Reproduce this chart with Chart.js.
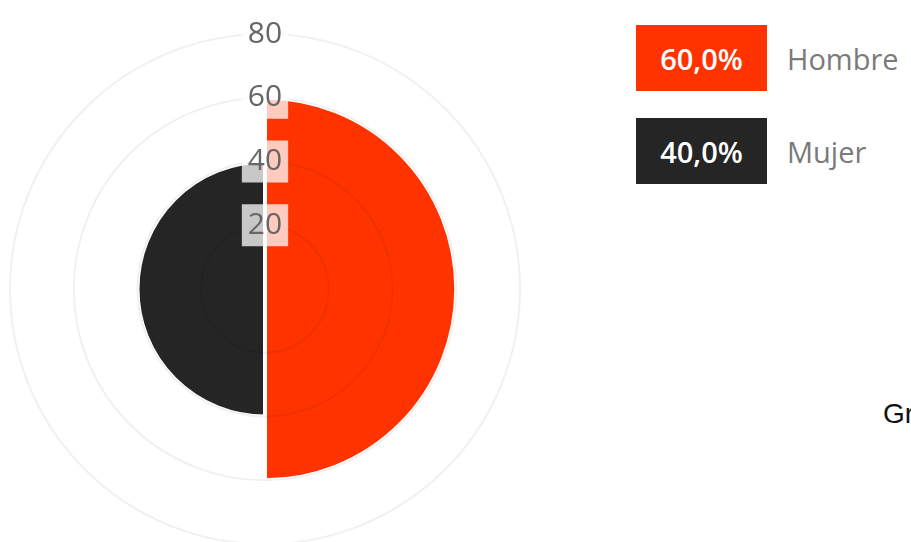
<!DOCTYPE html>
<html>
<head>
<meta charset="utf-8">
<script src="https://cdn.jsdelivr.net/npm/chart.js@4.4.0/dist/chart.umd.min.js"></script>
<style>
    html, body { margin: 0; padding: 0; background: #fff; }
    body { width: 911px; height: 542px; overflow: hidden; position: relative; font-family: "Open Sans", sans-serif; }
    #chartBox { position: absolute; left: -11px; top: -2px; width: 552px; height: 582px; }
    #legend { position: absolute; left: 636px; top: 25px; }
    .item { display: flex; align-items: center; height: 66px; margin-bottom: 27px; }
    .swatch { width: 131px; height: 66px; display: flex; align-items: center; justify-content: center;
              color: #fff; font-size: 29px; font-weight: 600; }
    .name { margin-left: 20px; font-size: 29px; color: #7a7a7a; }
    #side { position: absolute; left: 883px; top: 398px; font-family: "Liberation Sans", Arial, sans-serif;
            font-size: 28px; color: #111; white-space: nowrap; }
</style>
</head>
<body>
<div id="chartBox"><canvas id="polarChart"></canvas></div>
<div id="legend"></div>
<div id="side">Gráfico</div>

<script>
const categories = ['Hombre', 'Mujer'];
const values = [60, 40];
const sliceColors = ['#ff3300', '#252525'];
const tickValues = [20, 40, 60, 80];

// Legend boxes with the share of each category
const total = values.reduce((a, b) => a + b, 0);
const legend = document.getElementById('legend');
categories.forEach((name, i) => {
    const pct = (values[i] / total * 100).toFixed(1).replace('.', ',') + '%';
    const row = document.createElement('div');
    row.className = 'item';
    row.innerHTML = '<div class="swatch" style="background:' + sliceColors[i] + '">' + pct + '</div>' +
                    '<div class="name">' + name + '</div>';
    legend.appendChild(row);
});

const polar = document.getElementById('polarChart');
if (polar) {
    new Chart(polar, {
        type: 'polarArea',
        data: {
            labels: categories,
            datasets: [{
                data: values,
                backgroundColor: sliceColors,
                borderColor: '#ffffff',
                borderWidth: 4
            }]
        },
        options: {
            responsive: true,
            maintainAspectRatio: false,
            animation: false,
            layout: { padding: 0 },
            plugins: { legend: { display: false }, tooltip: { enabled: false } },
            scales: {
                r: {
                    min: 0,
                    max: tickValues[tickValues.length - 1],
                    afterBuildTicks: (scale) => {
                        scale.ticks = [{ value: 0 }].concat(tickValues.map(v => ({ value: v })));
                    },
                    grid: { color: 'rgba(0,0,0,0.06)', lineWidth: 2, z: 1 },
                    ticks: {
                        z: 2,
                        color: '#666',
                        font: { family: 'Open Sans', size: 30 },
                        backdropColor: 'rgba(255,255,255,0.75)',
                        backdropPadding: 6
                    }
                }
            }
        }
    });
}
</script>
</body>
</html>
